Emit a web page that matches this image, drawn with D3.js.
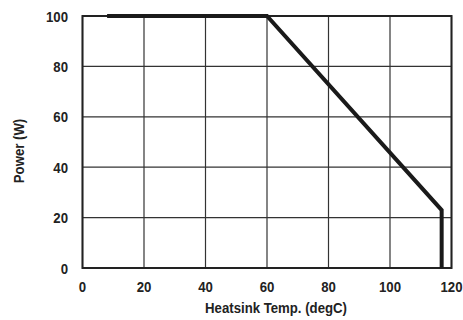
<!DOCTYPE html>
<html><head><meta charset="utf-8">
<script src="https://cdn.jsdelivr.net/npm/d3@7"></script>
<style>
body{margin:0;background:#fff;}
text{font-family:"Liberation Sans",Arial,sans-serif;font-weight:bold;fill:#222;}
</style></head><body>
<svg id="c" width="463" height="320"></svg>
<script>
const xTicks = [0, 20, 40, 60, 80, 100, 120];
const yTicks = [0, 20, 40, 60, 80, 100];
const temp = [8, 60, 116.8, 116.8];
const power = [100, 100, 23, 0];
const xTitle = "Heatsink Temp. (degC)";
const yTitle = "Power (W)";

const svg = d3.select("#c");
const m = {l:82.5, r:451.5, t:16, b:268};
const x = d3.scaleLinear().domain([0,120]).range([m.l, m.r]);
const y = d3.scaleLinear().domain([0,100]).range([m.b, m.t]);
const SX = 0.88, FS = 15;

// grid
svg.append("g").selectAll("line").data(xTicks).join("line")
  .attr("x1", d=>x(d)).attr("x2", d=>x(d)).attr("y1", m.t).attr("y2", m.b)
  .attr("stroke", "#333").attr("stroke-width", 1.2);
svg.append("g").selectAll("line").data(yTicks).join("line")
  .attr("y1", d=>y(d)).attr("y2", d=>y(d)).attr("x1", m.l).attr("x2", m.r)
  .attr("stroke", "#333").attr("stroke-width", 1.2);
svg.append("rect").attr("x", m.l).attr("y", m.t).attr("width", m.r-m.l).attr("height", m.b-m.t)
  .attr("fill","none").attr("stroke","#222").attr("stroke-width",2);

// tick labels
svg.append("g").selectAll("text").data(xTicks).join("text")
  .attr("transform", d=>`translate(${x(d)},292) scale(${SX},1)`).attr("text-anchor","middle")
  .attr("font-size", FS).text(d=>d);
svg.append("g").selectAll("text").data(yTicks).join("text")
  .attr("transform", d=>`translate(68,${y(d)+5.5}) scale(${SX},1)`).attr("text-anchor","end")
  .attr("font-size", FS).text(d=>d);

svg.append("text").attr("transform", `translate(276,312.5) scale(${SX},1)`).attr("text-anchor","middle")
  .attr("font-size", FS).text(xTitle);
svg.append("text").attr("transform",`translate(23.5,151) rotate(-90) scale(${SX},1)`).attr("text-anchor","middle")
  .attr("font-size", FS).text(yTitle);

// data line
const pts = temp.map((t,i)=>[t, power[i]]);
svg.append("path").datum(pts)
  .attr("d", d3.line().x(d=>x(d[0])).y(d=>y(d[1])))
  .attr("fill","none").attr("stroke","#1a1a1a").attr("stroke-width",4)
  .attr("stroke-linejoin","miter");
</script>
</body></html>
